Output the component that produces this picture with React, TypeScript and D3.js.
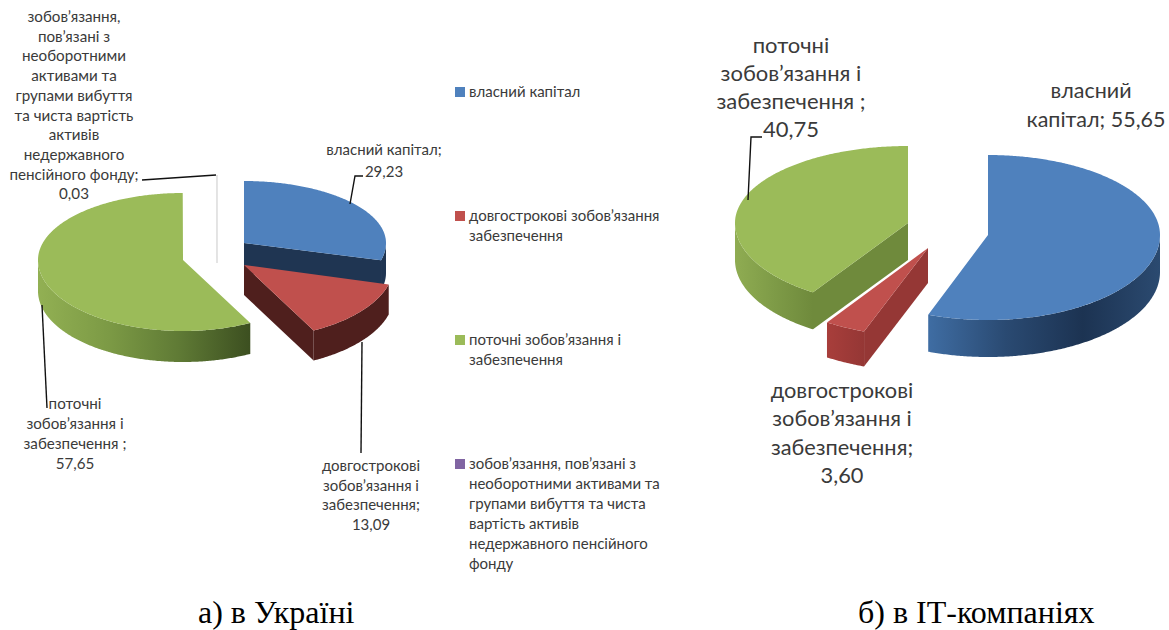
import React from "react";
import * as d3 from "d3";

const seriesNames = [
  "власний капітал",
  "довгострокові зобов’язання і забезпечення",
  "поточні зобов’язання і забезпечення",
  "зобов’язання, пов’язані з необоротними активами",
];
const valuesUkraine = [29.23, 13.09, 57.65, 0.03];
const valuesIT = [55.65, 3.6, 40.75];

const topColors = ["#4f81bd", "#c0504d", "#9bbb59", "#8064a2"];

const legendLines = [
  ["власний капітал"],
  ["довгострокові зобов’язання", "забезпечення"],
  ["поточні зобов’язання і", "забезпечення"],
  ["зобов’язання, пов’язані з", "необоротними активами та", "групами вибуття та чиста", "вартість активів", "недержавного пенсійного", "фонду"],
];

// where each exploded slice sits: apex, radii (back and front differ), wall height, wall shades
type Layout = { cx: number; cy: number; rx: number; back: number; front: number; depth: number; wall: string[]; cut: string };

const layoutUkraine: Layout[] = [
  { cx: 244, cy: 243, rx: 142, back: 62, front: 66, depth: 30, wall: ["#1f3552", "#1f3552"], cut: "#1f3552" },
  { cx: 244, cy: 265, rx: 150, back: 72, front: 74, depth: 30, wall: ["#4f1f1d", "#4f1f1d"], cut: "#4f1f1d" },
  { cx: 183, cy: 260, rx: 145, back: 67, front: 71, depth: 31, wall: ["#92b053", "#7c9a45", "#5f7a35", "#3c4f20"], cut: "#4f6228" },
  { cx: 217, cy: 263, rx: 1, back: 88, front: 88, depth: 0, wall: ["#8064a2", "#8064a2"], cut: "#8064a2" },
];
const layoutIT: Layout[] = [
  { cx: 988, cy: 235, rx: 172, back: 80, front: 85, depth: 37, wall: ["#3f6da3", "#2a4a72", "#1c3352", "#2b4a70"], cut: "#1f3552" },
  { cx: 928, cy: 248, rx: 184, back: 89, front: 89, depth: 35, wall: ["#a83e3b", "#953735"], cut: "#953735" },
  { cx: 908, cy: 223, rx: 173, back: 77, front: 83, depth: 37, wall: ["#8fac52", "#7e9b47", "#6f8a3c"], cut: "#6f8a3c" },
];

const pie = d3.pie<number>().sort(null).value((d) => d);
const line = d3.line<[number, number]>();

const at = (s: Layout, a: number): [number, number] => {
  const c = Math.cos(a);
  return [s.cx + s.rx * Math.sin(a), s.cy - (c > 0 ? s.back : s.front) * c];
};

const sweep = (s: Layout, from: number, to: number) =>
  d3.range(from, to, 0.01).concat(to).map((a) => at(s, a));

function Slices({ id, values, layout }: { id: string; values: number[]; layout: Layout[] }) {
  const arcs = pie(values);
  return (
    <g>
      {arcs.map((d, i) => {
        const s = layout[i];
        if (d.value < 1) {
          // the 0,03 slice is only a hairline
          const tip = at(s, d.startAngle);
          return <line key={i} x1={s.cx} y1={s.cy} x2={tip[0]} y2={tip[1]} stroke="#c9c9c9" strokeWidth={1} />;
        }
        const from = Math.max(d.startAngle, Math.PI / 2);
        const to = Math.min(d.endAngle, (3 * Math.PI) / 2);
        const upper = to > from ? sweep(s, from, to) : [];
        const lower = upper.slice().reverse().map(([x, y]) => [x, y + s.depth] as [number, number]);
        const xs = upper.map((p) => p[0]);
        const gid = `${id}-wall-${i}`;
        const face = (a: number) => {
          const p = at(s, a);
          return line([[s.cx, s.cy], p, [p[0], p[1] + s.depth], [s.cx, s.cy + s.depth]]) + "Z";
        };
        const apex: [number, number] = [s.cx, s.cy];
        return (
          <g key={i}>
            <defs>
              {/* shade runs from the left end of the wall to the right */}
              <linearGradient id={gid} gradientUnits="userSpaceOnUse" x1={d3.min(xs)} x2={d3.max(xs)} y1={0} y2={0}>
                {s.wall.map((c, k) => (
                  <stop key={k} offset={k / (s.wall.length - 1)} stopColor={c} />
                ))}
              </linearGradient>
            </defs>
            {Math.sin(d.startAngle) < -1e-6 && <path d={face(d.startAngle)} fill={s.cut} />}
            {Math.sin(d.endAngle) > 1e-6 && <path d={face(d.endAngle)} fill={s.cut} />}
            {to > from && <path d={line(upper.concat(lower)) + "Z"} fill={`url(#${gid})`} />}
            <path d={line([apex, ...sweep(s, d.startAngle, d.endAngle)]) + "Z"} fill={topColors[i]} />
          </g>
        );
      })}
    </g>
  );
}

function Label({ lines, x, y, step, size }: { lines: string[]; x: number; y: number; step: number; size: number }) {
  return (
    <text fontFamily="Lato, sans-serif" fontSize={size} fill="#3a3a3a" textAnchor="middle">
      {lines.map((t, i) => (
        <tspan key={i} x={x} y={y + i * step}>
          {t}
        </tspan>
      ))}
    </text>
  );
}

const leaderStyle = { fill: "none", stroke: "#111", strokeWidth: 1.4 };

export default function App() {
  return (
    <svg width={1169} height={630} style={{ position: "absolute", left: 0, top: 0, display: "block" }}>
      <Slices id="ua" values={valuesUkraine} layout={layoutUkraine} />
      <Slices id="it" values={valuesIT} layout={layoutIT} />

      <path d={line([[142, 180], [216, 175]]) as string} {...leaderStyle} />
      <path d={line([[363, 176], [355, 176], [350, 204]]) as string} {...leaderStyle} />
      <path d={line([[42, 305], [47, 408]]) as string} {...leaderStyle} />
      <path d={line([[362, 342], [361, 453]]) as string} {...leaderStyle} />
      <path d={line([[762, 137], [751, 137], [748, 200]]) as string} {...leaderStyle} />

      <Label
        lines={["зобов’язання,", "пов’язані з", "необоротними", "активами та", "групами вибуття", "та чиста вартість", "активів", "недержавного", "пенсійного фонду;", valuesUkraine[3].toFixed(2).replace(".", ",")]}
        x={74}
        y={22}
        step={19.7}
        size={15.2}
      />
      <Label lines={["власний капітал;", "29,23"]} x={384} y={155} step={22} size={15} />
      <Label lines={["поточні", "зобов’язання і", "забезпечення ;", "57,65"]} x={75} y={408.5} step={20} size={15.2} />
      <Label lines={["довгострокові", "зобов’язання і", "забезпечення;", "13,09"]} x={371} y={471} step={19.6} size={15} />

      <Label lines={["поточні", "зобов’язання і", "забезпечення ;", "40,75"]} x={791} y={52.5} step={28.2} size={22} />
      <Label lines={["власний"]} x={1091} y={98} step={29} size={21.5} />
      <Label lines={["капітал; 55,65"]} x={1096} y={127} step={29} size={21.5} />
      <Label lines={["довгострокові", "зобов’язання і", "забезпечення;", "3,60"]} x={842} y={398} step={28.3} size={21.8} />

      {legendLines.map((rows, i) => {
        const y0 = [92, 216, 340, 464][i];
        return (
          <g key={seriesNames[i]}>
            <rect x={455} y={y0 - 5} width={10} height={10} fill={topColors[i]} />
            <text fontFamily="Lato, sans-serif" fontSize={15} fill="#3a3a3a">
              {rows.map((t, k) => (
                <tspan key={k} x={469} y={y0 + 5 + k * 20}>
                  {t}
                </tspan>
              ))}
            </text>
          </g>
        );
      })}

      <text x={198} y={623} fontFamily="Liberation Serif, serif" fontSize={32} fill="#000">
        а) в Україні
      </text>
      <text x={858} y={623} fontFamily="Liberation Serif, serif" fontSize={32} fill="#000">
        б) в ІТ-компаніях
      </text>
    </svg>
  );
}
